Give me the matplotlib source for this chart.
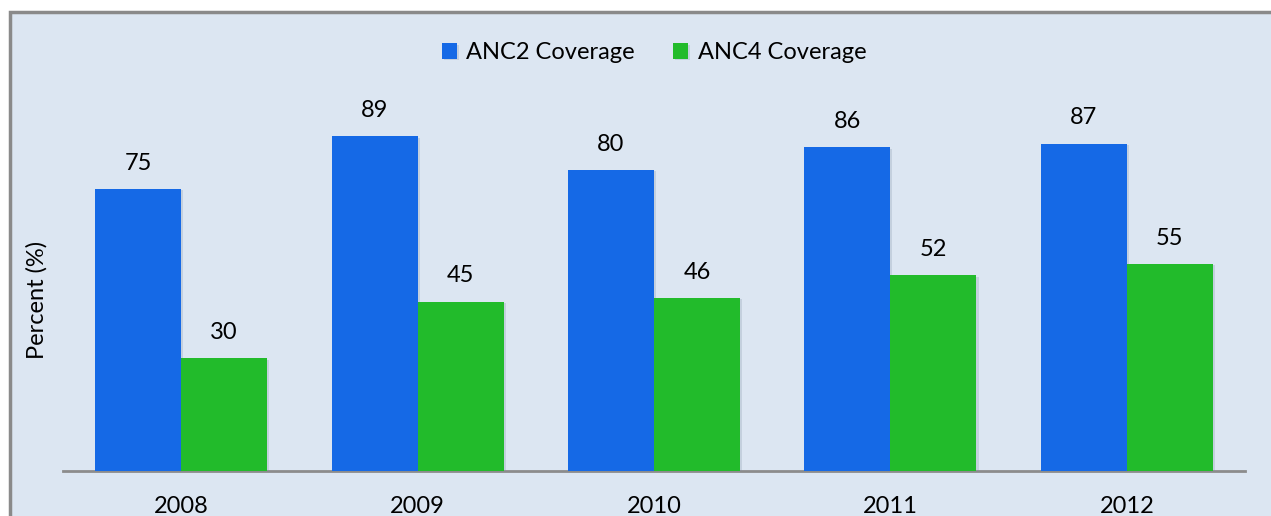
import matplotlib.pyplot as plt
import matplotlib.patheffects as pe
import numpy as np
from matplotlib.patches import Rectangle

plt.rcParams['font.family'] = ['Lato', 'DejaVu Sans']

years = ['2008', '2009', '2010', '2011', '2012']
anc2 = [75, 89, 80, 86, 87]
anc4 = [30, 45, 46, 52, 55]

blue = '#1569e6'
green = '#22bb2b'
bg = '#dce6f2'

fig = plt.figure(figsize=(12.71, 5.16), dpi=100)
fig.patch.set_facecolor('white')

# outer frame (background panel with a grey border on top/left)
fig.patches.append(Rectangle((9.5 / 1271, -0.05), 1.1, 1 - 11.5 / 516 + 0.05,
                             transform=fig.transFigure, facecolor=bg,
                             edgecolor='#8a8a8a', linewidth=2.5, zorder=-10))

ax = fig.add_axes([63 / 1271, 45 / 516, 1182 / 1271, 444 / 516])
ax.set_facecolor('none')

x = np.arange(len(years))
w = 0.364
shadow = [pe.SimplePatchShadow(offset=(1.5, -1), shadow_rgbFace='#7f8fa6', alpha=0.25), pe.Normal()]
b1 = ax.bar(x - w / 2, anc2, w, color=blue, label='ANC2 Coverage', zorder=3, path_effects=shadow)
b2 = ax.bar(x + w / 2, anc4, w, color=green, label='ANC4 Coverage', zorder=3, path_effects=shadow)

for bars, vals in ((b1, anc2), (b2, anc4)):
    for r, v in zip(bars, vals):
        ax.annotate(str(v), (r.get_x() + r.get_width() / 2, v), xytext=(0, 11),
                    textcoords='offset points', ha='center', va='bottom',
                    fontsize=17, color='black')

ax.set_xlim(-0.5, 4.5)
ax.set_ylim(0, 118)
ax.set_xticks(x)
ax.set_xticklabels(years, fontsize=17)
ax.tick_params(axis='x', length=0, pad=18)
ax.set_yticks([])
for s in ['top', 'right', 'left']:
    ax.spines[s].set_visible(False)
ax.spines['bottom'].set_color('#8c8c8c')
ax.spines['bottom'].set_linewidth(2)

ax.legend(loc='upper center', bbox_to_anchor=(0.5, 1.013), ncol=2, frameon=False,
          fontsize=17, handlelength=0.65, handleheight=0.65, handletextpad=0.4,
          columnspacing=1.6)

fig.text(37 / 1271, 1 - 300 / 516, 'Percent (%)', rotation=90, ha='center', va='center',
         fontsize=17)

plt.savefig('out.png', dpi=100)
